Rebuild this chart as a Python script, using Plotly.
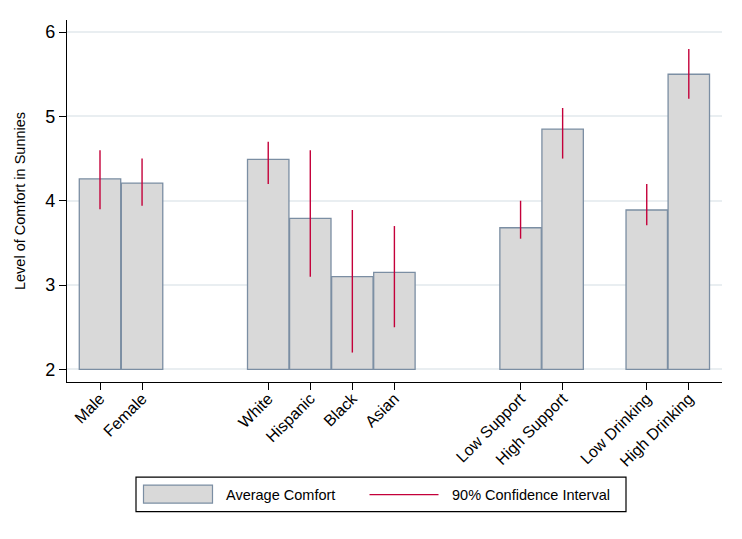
import plotly.graph_objects as go

# ---------------- data ----------------
groups = [
    ["Male", "Female"],
    ["White", "Hispanic", "Black", "Asian"],
    ["Low Support", "High Support"],
    ["Low Drinking", "High Drinking"],
]
means = [4.26, 4.21, 4.49, 3.79, 3.10, 3.15, 3.68, 4.85, 3.89, 5.50]
ci_low = [3.90, 3.94, 4.20, 3.10, 2.20, 2.50, 3.55, 4.50, 3.71, 5.21]
ci_high = [4.60, 4.50, 4.70, 4.60, 3.89, 3.70, 4.00, 5.10, 4.20, 5.80]
y_ticks = [2, 3, 4, 5, 6]

# ---------------- layout helpers ----------------
group_gaps = [2, 2, 1]  # empty slots between groups
labels, xpos = [], []
p = 0
for gi, g in enumerate(groups):
    for lab in g:
        labels.append(lab)
        xpos.append(p)
        p += 1
    if gi < len(group_gaps):
        p += group_gaps[gi]

OFF = 8  # page body margin
W, H = 742 - OFF, 539 - OFF
# target page pixel positions of the plot area
L, R, T, B = 67, 722, 20, 382.3
FONT = "Liberation Sans, Arial, sans-serif"
BAR_FILL = "#d9d9d9"
BAR_EDGE = "#7b8ea3"
CI_COL = "#c4003a"


def px(x):
    return (x - L) / (R - L)


def py(y):
    return (B - y) / (B - T)


fig = go.Figure()
fig.add_trace(go.Bar(
    x=xpos,
    y=[m - 2 for m in means],
    base=2,
    width=0.985,
    marker=dict(color=BAR_FILL, line=dict(color=BAR_EDGE, width=1.3)),
    name="Average Comfort",
    showlegend=False,
))

cx, cy = [], []
for x, lo, hi in zip(xpos, ci_low, ci_high):
    cx += [x, x, None]
    cy += [lo, hi, None]
fig.add_trace(go.Scatter(
    x=cx, y=cy, mode="lines",
    line=dict(color=CI_COL, width=1.4),
    name="90% Confidence Interval",
    showlegend=False,
))

shapes = [
    # legend box
    dict(type="rect", xref="paper", yref="paper",
         x0=px(136), x1=px(626), y0=py(512), y1=py(477.5),
         line=dict(color="black", width=1.2), fillcolor="white"),
    dict(type="rect", xref="paper", yref="paper",
         x0=px(143.5), x1=px(212.5), y0=py(503.5), y1=py(485.5),
         line=dict(color=BAR_EDGE, width=1.2), fillcolor=BAR_FILL),
    dict(type="line", xref="paper", yref="paper",
         x0=px(369.5), x1=px(438.5), y0=py(495), y1=py(495),
         line=dict(color=CI_COL, width=1.4)),
    # faint outer frame (right)
    dict(type="line", xref="paper", yref="paper",
         x0=px(741), x1=px(741), y0=py(OFF), y1=py(539),
         line=dict(color="#e6ecef", width=1.5)),
]

annotations = [
    dict(text="Average Comfort", xref="paper", yref="paper",
         x=px(224), y=py(495), xanchor="left", yanchor="middle",
         showarrow=False, font=dict(family=FONT, size=14.5, color="black")),
    dict(text="90% Confidence Interval", xref="paper", yref="paper",
         x=px(450), y=py(495), xanchor="left", yanchor="middle",
         showarrow=False, font=dict(family=FONT, size=14.5, color="black")),
]

x_lo = -(100 - L) / 42.06
x_hi = 14 + (R - 688.8) / 42.06

fig.update_layout(
    width=W, height=H,
    margin=dict(l=L - OFF, r=742 - R, t=T - OFF, b=539 - B, pad=0),
    paper_bgcolor="white",
    plot_bgcolor="white",
    showlegend=False,
    shapes=shapes,
    annotations=annotations,
    font=dict(family=FONT, color="black"),
    xaxis=dict(
        range=[x_lo, x_hi],
        tickvals=xpos, ticktext=labels,
        tickangle=-45,
        ticks="outside", ticklen=7, tickcolor="black", tickwidth=1,
        ticklabelstandoff=-7,
        showline=True, linecolor="black", linewidth=1.2,
        showgrid=False, zeroline=False,
        tickfont=dict(family=FONT, size=16, color="black"),
    ),
    yaxis=dict(
        range=[1.851, 6.143],
        tickvals=y_ticks,
        ticks="outside", ticklen=7, tickcolor="black", tickwidth=1,
        showline=True, linecolor="black", linewidth=1.2,
        showgrid=True, gridcolor="#e9eef1", gridwidth=1.5,
        zeroline=False,
        tickfont=dict(family=FONT, size=18, color="black"),
        title=dict(text="Level of Comfort in Sunnies",
                   font=dict(family=FONT, size=14.5, color="black"),
                   standoff=16),
    ),
)

fig.write_html("out.html")
